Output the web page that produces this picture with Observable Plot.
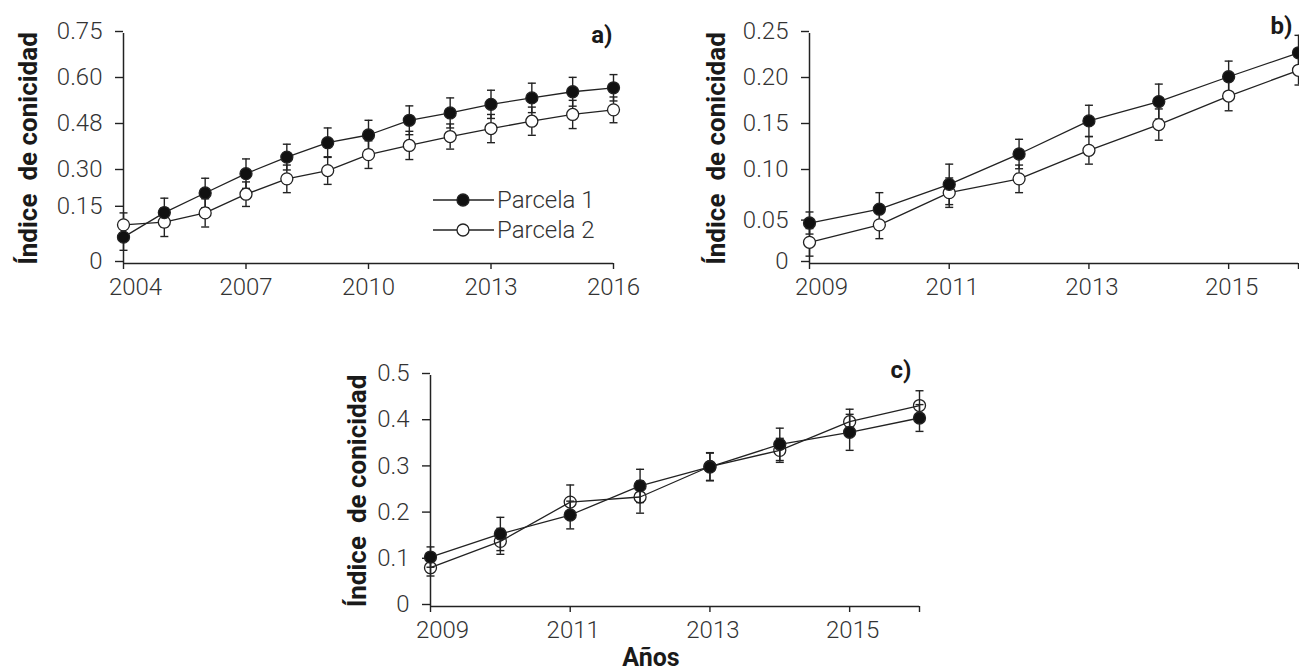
<!DOCTYPE html>
<html><head><meta charset="utf-8">
<script src="https://cdn.jsdelivr.net/npm/d3@7"></script>
<script src="https://cdn.jsdelivr.net/npm/@observablehq/plot@0.6"></script>
<style>
body{margin:0;overflow:hidden;background:#fff}
#wrap{position:relative;width:1299px;height:671px;overflow:hidden;font-family:Roboto}
.panel{position:absolute}
</style></head><body><div id="wrap"></div>
<script>
// ---- Data ----
const yearsA = [2004,2005,2006,2007,2008,2009,2010,2011,2012,2013,2014,2015,2016];
const p1A  = [0.086,0.166,0.230,0.293,0.347,0.394,0.419,0.467,0.491,0.519,0.540,0.560,0.573];
const e1A  = [0.043,0.047,0.048,0.048,0.042,0.048,0.048,0.047,0.049,0.046,0.048,0.047,0.043];
const p2A  = [0.126,0.135,0.165,0.226,0.276,0.303,0.355,0.385,0.414,0.440,0.464,0.486,0.501];
const e2A  = [0.039,0.047,0.046,0.040,0.045,0.045,0.045,0.046,0.041,0.046,0.046,0.046,0.042];
const xTicksA = [2004,2007,2010,2013,2016];
const yTicksA = [0,0.18,0.30,0.45,0.60,0.75];
const yLabelsA = ["0","0.15","0.30","0.48","0.60","0.75"];

const yearsB = [2009,2010,2011,2012,2013,2014,2015,2016];
const p1B  = [0.044,0.059,0.086,0.119,0.155,0.176,0.203,0.229];
const e1B  = [0.012,0.018,0.022,0.016,0.017,0.019,0.017,0.019];
const p2B  = [0.023,0.042,0.077,0.092,0.123,0.151,0.182,0.210];
const e2B  = [0.015,0.015,0.016,0.015,0.015,0.017,0.016,0.016];
const xTicksB = [2009,2011,2013,2015,2016];
const xLabelsB = ["2009","2011","2013","2015",""];
const yTicksB = [0,0.045,0.10,0.15,0.20,0.25];
const yLabelsB = ["0","0.05","0.10","0.15","0.20","0.25"];

const yearsC = [2009,2010,2011,2012,2013,2014,2015,2016];
const p1C  = [0.107,0.157,0.198,0.261,0.302,0.351,0.377,0.408];
const e1C  = [0.022,0.036,0.030,0.036,0.030,0.035,0.039,0.029];
const p2C  = [0.084,0.141,0.226,0.237,0.303,0.338,0.400,0.435];
const e2C  = [0.018,0.028,0.037,0.035,0.030,0.026,0.027,0.032];
const xTicksC = [2009,2011,2013,2015,2016];
const xLabelsC = ["2009","2011","2013","2015",""];
const yTicksC = [0,0.1,0.2,0.3,0.4,0.5];
const yLabelsC = ["0","0.1","0.2","0.3","0.4","0.5"];

const seriesNames = ["Parcela 1","Parcela 2"];
const yTitle = "Índice\u00a0 de conicidad";
const xTitle = "Años";

// ---- Drawing ----
const INK = "#222", TXT = "#333";
const FONT = "'Roboto Light', Roboto, sans-serif";
const capSymbol = {draw(ctx, size){ const r = Math.sqrt(size/Math.PI); ctx.moveTo(-r,0); ctx.lineTo(r,0); }};

function seriesMarks(years, vals, errs, fill){
  const d = years.map((x,i)=>({x, y: vals[i], e: errs[i]}));
  const caps = d.flatMap(p=>[{x:p.x,y:p.y-p.e},{x:p.x,y:p.y+p.e}]);
  return {
    bars: [
      Plot.ruleX(d, {x:"x", y1:p=>p.y-p.e, y2:p=>p.y+p.e, stroke:INK, strokeWidth:1.4}),
      Plot.dot(caps, {x:"x", y:"y", symbol:capSymbol, r:4, stroke:INK, strokeWidth:1.4, fill:"none"})
    ],
    line: Plot.line(d, {x:"x", y:"y", stroke:INK, strokeWidth:1.3}),
    dots: Plot.dot(d, {x:"x", y:"y", r:6, fill, stroke:INK, strokeWidth:1.3})
  };
}

function panel(cfg){
  const s1 = seriesMarks(cfg.years, cfg.s1, cfg.e1, "#111");
  const s2 = seriesMarks(cfg.years, cfg.s2, cfg.e2, cfg.openFill);
  const xl = cfg.xLabels || cfg.xTicks.map(String);
  const labData = cfg.xTicks.map((t,i)=>({t, s: xl[i]}));
  return Plot.plot({
    width: cfg.width, height: cfg.height,
    marginLeft: cfg.ml, marginRight: cfg.mr, marginTop: cfg.mt, marginBottom: cfg.mb,
    x: {domain: cfg.xDomain},
    y: {domain: cfg.yDomain},
    style: {fontFamily: FONT, fontSize: "24px", fontWeight: 300, color: TXT, background: "transparent", overflow: "visible"},
    marks: [
      Plot.axisY({ticks: cfg.yTicks, tickFormat: d => cfg.yLabels[cfg.yTicks.indexOf(d)], tickSize: 8, tickPadding: 13, label: null, fontSize: 24, dy: -2, stroke: INK, strokeWidth: 1.4}),
      Plot.axisX({ticks: cfg.xTicks, tickFormat: () => "", tickSize: 6, label: null, stroke: INK, strokeWidth: 1.4}),
      Plot.text(labData.slice(0,1), {x:"t", text:"s", frameAnchor:"bottom", lineAnchor:"top", dy:14, dx:12, fontSize:24, fill:TXT}),
      Plot.text(labData.slice(1), {x:"t", text:"s", frameAnchor:"bottom", lineAnchor:"top", dy:14, dx:cfg.labDx, fontSize:24, fill:TXT}),
      Plot.ruleX([cfg.xDomain[0]], {stroke: INK, strokeWidth: 1.5}),
      Plot.ruleY([0], {stroke: INK, strokeWidth: 1.5}),
      ...s1.bars, ...s2.bars,
      s1.line, s2.line,
      s2.dots, s1.dots,
      Plot.text([yTitle], {text: d=>d, frameAnchor:"left", textAnchor:"middle", rotate:-90, dx: cfg.titleDx, fontSize: 26, fontWeight: "bold", fontFamily: "Roboto, sans-serif", fill: "#1a1a1a"}),
      Plot.text([cfg.tag], {text: d=>d, frameAnchor:"top-right", textAnchor:"end", lineAnchor:"bottom", dx: cfg.tagDx, dy: cfg.tagDy, fontSize: 24, fontWeight: "bold", fontFamily: "Roboto, sans-serif", fill: "#1a1a1a"}),
      ...(cfg.xTitle ? [Plot.text([cfg.xTitle], {text:d=>d, frameAnchor:"bottom", lineAnchor:"top", dy: 42, dx: cfg.xTitleDx, fontSize: 25, fontWeight:"bold", fontFamily: "Roboto, sans-serif", fill:"#1a1a1a"})] : [])
    ]
  });
}

function place(node, left, top, w){
  const div = document.createElement("div");
  div.className = "panel";
  div.style.left = left+"px"; div.style.top = top+"px"; div.style.width = w+"px";
  div.appendChild(node);
  document.getElementById("wrap").appendChild(div);
}

place(panel({years: yearsA, s1: p1A, e1: e1A, s2: p2A, e2: e2A, openFill: "white",
  width: 650, height: 300, ml: 123, mr: 37, mt: 33, mb: 37,
  xDomain: [2004, 2016], yDomain: [0, 0.75], xTicks: xTicksA, yTicks: yTicksA, yLabels: yLabelsA,
  labDx: 0, titleDx: -95, tag: "a)", tagDx: -1, tagDy: 9}), 0, 0, 650);

place(panel({years: yearsB, s1: p1B, e1: e1B, s2: p2B, e2: e2B, openFill: "white",
  width: 649, height: 300, ml: 159, mr: 1, mt: 33, mb: 37,
  xDomain: [2009, 2016], yDomain: [0, 0.25], xTicks: xTicksB, xLabels: xLabelsB, yTicks: yTicksB, yLabels: yLabelsB,
  labDx: 3, titleDx: -93, tag: "b)", tagDx: -6, tagDy: 0}), 650, 0, 649);

place(panel({years: yearsC, s1: p1C, e1: e1C, s2: p2C, e2: e2C, openFill: "none",
  width: 620, height: 341, ml: 100, mr: 31, mt: 45, mb: 65,
  xDomain: [2009, 2016], yDomain: [0, 0.5], xTicks: xTicksC, xLabels: xLabelsC, yTicks: yTicksC, yLabels: yLabelsC,
  labDx: 3, titleDx: -73, tag: "c)", tagDx: -8, tagDy: 2, xTitle: xTitle, xTitleDx: -24}), 330, 330, 620);

// Legend (panel a)
const lg = d3.select("#wrap").append("svg")
  .attr("width", 190).attr("height", 64)
  .style("position","absolute").style("left","430px").style("top","185px");
seriesNames.forEach((name, i) => {
  const g = lg.append("g").attr("transform", `translate(0,${15 + 30*i})`);
  g.append("line").attr("x1", 3).attr("x2", 64).attr("stroke", INK).attr("stroke-width", 1.3);
  g.append("circle").attr("cx", 33).attr("r", 6).attr("fill", i === 0 ? "#111" : "white").attr("stroke", INK).attr("stroke-width", 1.3);
  g.append("text").attr("x", 67).attr("y", 8).text(name)
    .attr("font-family", FONT).attr("font-weight", 300).attr("font-size", 24).attr("fill", TXT);
});
</script></body></html>
